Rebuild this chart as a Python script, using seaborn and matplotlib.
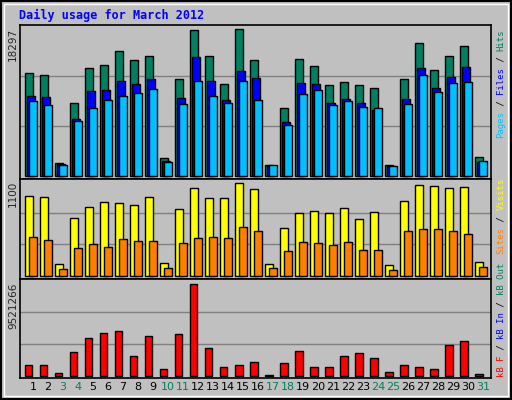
import numpy as np
import pandas as pd
import matplotlib
matplotlib.use('Agg')
import matplotlib.pyplot as plt
import seaborn as sns
from matplotlib.patches import Rectangle

days = list(range(1, 32))
weekends = [3, 4, 10, 11, 17, 18, 24, 25, 31]

hits = [12566, 12322, 1586, 8906, 13176, 13542, 15250, 14152, 14640, 2196, 11834, 17812,
        14640, 11224, 17934, 14152, 1342, 8296, 14274, 13420, 11102, 11468, 11102, 10736,
        1342, 11834, 16226, 12932, 14640, 15860, 2318]
files = [9760, 9638, 1464, 6954, 10370, 10492, 11590, 11224, 11834, 1830, 9516, 14518,
         11590, 9272, 12810, 11956, 1220, 6588, 11346, 11224, 8906, 9394, 8906, 8052,
         1220, 9394, 13176, 10736, 12078, 13298, 1708]
pages = [9150, 8662, 1342, 6710, 8296, 9272, 9760, 10126, 10614, 1708, 8784, 11590,
         9760, 8906, 11590, 9272, 1342, 6222, 10004, 10492, 8662, 9150, 8418, 8296,
         1220, 8784, 12322, 10248, 11346, 11468, 1830]
visits = [930, 918, 139, 674, 802, 860, 848, 825, 918, 151, 778, 1011, 906, 906, 1069, 1003,
          139, 558, 732, 755, 732, 790, 662, 744, 128, 871, 1046, 1034, 1011, 1023, 163]
sites = [453, 418, 81, 325, 372, 337, 430, 407, 407, 93, 383, 442, 453, 442, 569, 523,
         93, 290, 395, 383, 360, 395, 302, 302, 70, 523, 546, 546, 523, 488, 105]
kbytes = [1.13e6, 1.13e6, 0.33e6, 2.34e6, 3.74e6, 4.24e6, 4.44e6, 2.03e6, 3.94e6, 0.73e6,
          4.14e6, 9.15e6, 2.74e6, 0.93e6, 1.13e6, 1.43e6, 0.1e6, 1.33e6, 2.44e6, 0.93e6,
          0.93e6, 2.03e6, 2.24e6, 1.83e6, 0.43e6, 1.13e6, 0.93e6, 0.73e6, 3.04e6, 3.44e6,
          0.23e6]
max_hits, max_visits, max_kb = 18297, 1100, 9521266

df = pd.DataFrame({'day': days, 'kb': kbytes})

sns.set_style('white')
plt.rcParams['font.family'] = ['DejaVu Sans']
BG = '#c0c0c0'
fig = plt.figure(figsize=(5.12, 4.0), dpi=100, facecolor=BG)
W, H = 512, 400


def make_ax(top, bottom):
    ax = fig.add_axes([20 / W, 1 - bottom / H, (491 - 20) / W, (bottom - top) / H])
    ax.set_facecolor(BG)
    ax.set_xlim(0.133, 31.53)
    ax.set_xticks([])
    ax.set_yticks([])
    for s in ax.spines.values():
        s.set_color('black')
        s.set_linewidth(1.2)
    return ax


def grid(ax, vmax):
    for f in (1 / 3, 2 / 3):
        ax.axhline(vmax * f, color='#808080', lw=1, zorder=0)


x = np.array(days, dtype=float)
ek = dict(edgecolor='black', linewidth=1)

ax1 = make_ax(25, 179)
ax1.set_ylim(-366, max_hits + 122)
grid(ax1, max_hits)
ax1.bar(x - 0.27, hits, width=0.53, color='#008060', zorder=2, **ek)
ax1.bar(x - 0.13, files, width=0.53, color='#0000ff', zorder=3, **ek)
ax1.bar(x, pages, width=0.53, color='#00c0ff', zorder=4, **ek)

ax2 = make_ax(179, 279)
ax2.set_ylim(-31, max_visits + 20)
grid(ax2, max_visits)
ax2.bar(x - 0.27, visits, width=0.53, color='#ffff00', zorder=2, **ek)
ax2.bar(x, sites, width=0.53, color='#ff8000', zorder=3, **ek)

ax3 = make_ax(279, 378)
ax3.set_ylim(-2.0e5, max_kb + 1.0e5)
grid(ax3, max_kb)
sns.barplot(data=df, x='day', y='kb', native_scale=True, color='#ff0000',
            saturation=1, width=0.47, ax=ax3, zorder=2, **ek)
for p in ax3.patches:
    p.set_x(p.get_x() - 0.27)
ax3.set_xlim(0.133, 31.53)
ax3.set_xlabel('')
ax3.set_ylabel('')
ax3.set_xticks([])
ax3.set_yticks([])

# day labels
for d in days:
    fig.text((33 + (d - 1) * 15) / W, 1 - 387 / H, str(d), ha='center', va='center',
             fontsize=8, color='#00805f' if d in weekends else 'black')

# y max labels
for txt, ytop in ((str(max_hits), 28), (str(max_visits), 181), (str(max_kb), 283)):
    fig.text(13 / W, 1 - ytop / H, txt, rotation=90, ha='center', va='top', fontsize=7.5)

fig.text(19 / W, 1 - 15 / H, 'Daily usage for March 2012', fontsize=8.5, color='#0000ff',
         family='DejaVu Sans Mono', fontweight='bold', va='center')

ADV = 5.45


def vlabel(segments, ybottom):
    y = ybottom
    for txt, col in segments:
        fig.text(501 / W, 1 - y / H, txt, rotation=90, ha='center', va='bottom',
                 fontsize=6.5, family='DejaVu Sans Mono', color=col)
        y -= len(txt) * ADV


vlabel([('Pages', '#00c0ff'), (' / ', 'black'), ('Files', '#0000ff'),
        (' / ', 'black'), ('Hits', '#008060')], 138)
vlabel([('Sites', '#ff8000'), (' / ', 'black'), ('Visits', '#ffff00')], 254)
vlabel([('kB F', '#ff0000'), (' / ', 'black'), ('kB In', '#0000ff'),
        (' / ', 'black'), ('kB Out', '#008060')], 377)

# outer frame
fig.patches.append(Rectangle((0.002, 0.002), 0.996, 0.996, transform=fig.transFigure,
                             fill=False, edgecolor='black', lw=1.5))
fig.patches.append(Rectangle((4 / W, 4 / H), 1 - 8 / W, 1 - 8 / H, transform=fig.transFigure,
                             fill=False, edgecolor='white', lw=1))

fig.savefig('out.png', dpi=100, facecolor=BG)
